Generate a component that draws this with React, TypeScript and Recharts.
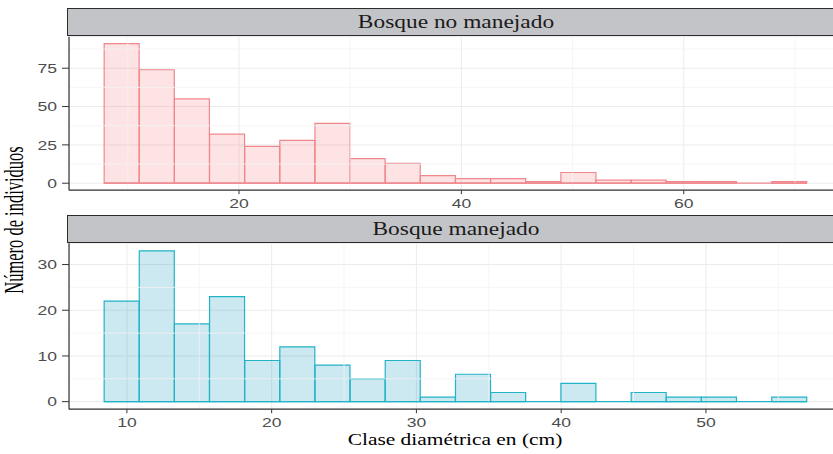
import { Bar, CartesianGrid, ComposedChart, ReferenceLine, XAxis, YAxis } from "recharts";

// Bosque no manejado (top facet)
const unmanagedCounts = [91, 74, 55, 32, 24, 28, 39, 16, 13, 5, 3, 3, 1, 7, 2, 2, 1, 1, 0, 1];
const unmanagedBinStart = 7.87;
const unmanagedBinWidth = 3.16;
const unmanagedXTicks = [20, 40, 60];
const unmanagedXMinor = [10, 30, 50, 70];
const unmanagedYTicks = [0, 25, 50, 75];
const unmanagedYMinor = [12.5, 37.5, 62.5, 87.5];

// Bosque manejado (bottom facet)
const managedCounts = [22, 33, 17, 23, 9, 12, 8, 5, 9, 1, 6, 2, 0, 4, 0, 2, 1, 1, 0, 1];
const managedBinStart = 8.43;
const managedBinWidth = 2.427;
const managedXTicks = [10, 20, 30, 40, 50];
const managedXMinor = [15, 25, 35, 45, 55];
const managedYTicks = [0, 10, 20, 30];
const managedYMinor = [5, 15, 25];

const PLOT_LEFT = 69;
const CHART_W = 842;
const AXIS_H = 30;
const EXPAND = 0.05; // ggplot default continuous expansion

const serif = "'Liberation Serif', 'Times New Roman', serif";
const tickFont = {
	fontFamily: "'Liberation Sans', Arial, sans-serif",
	fontSize: 13.5,
	fill: "#4d4d4d",
};

function makeTick(anchor: "middle" | "end", dy: string) {
	return (props: any) => {
		const { x, y, payload } = props;
		return (
			<text
				transform={`translate(${x},${y}) scale(1.3,1)`}
				textAnchor={anchor}
				dy={dy}
				{...tickFont}
			>
				{payload.value}
			</text>
		);
	};
}

interface PanelProps {
	title: string;
	counts: number[];
	binStart: number;
	binWidth: number;
	xTicks: number[];
	xMinor: number[];
	yTicks: number[];
	yMinor: number[];
	color: string;
	stroke: string;
	stripTop: number;
	stripBottom: number;
	plotBottom: number;
}

function Panel({
	title,
	counts,
	binStart,
	binWidth,
	xTicks,
	xMinor,
	yTicks,
	yMinor,
	color,
	stroke,
	stripTop,
	stripBottom,
	plotBottom,
}: PanelProps) {
	const data = counts.map((count, i) => ({
		bin: i,
		mid: binStart + binWidth * (i + 0.5),
		count,
	}));
	const binEnd = binStart + binWidth * counts.length;
	const span = binEnd - binStart;
	const xDomain = [binStart - EXPAND * span, binEnd + EXPAND * span];
	const yMax = Math.max(...counts);
	const yDomain = [-EXPAND * yMax, (1 + EXPAND) * yMax];
	const plotWidth = CHART_W - PLOT_LEFT;
	const pad = (plotWidth * EXPAND) / (1 + 2 * EXPAND);
	const height = plotBottom - stripTop + AXIS_H;

	return (
		<>
			<div
				style={{
					position: "absolute",
					left: 0,
					top: stripTop,
				}}
			>
				<ComposedChart
					width={CHART_W}
					height={height}
					data={data}
					barCategoryGap={0}
					margin={{ top: stripBottom - stripTop, right: 0, bottom: 0, left: 0 }}
				>
					<CartesianGrid xAxisId="num" stroke="#ebebeb" strokeWidth={1} />
					{xMinor.map((v) => (
						<ReferenceLine key={`mx${v}`} xAxisId="num" x={v} stroke="#f3f3f3" strokeWidth={0.8} />
					))}
					{yMinor.map((v) => (
						<ReferenceLine key={`my${v}`} xAxisId="num" y={v} stroke="#f3f3f3" strokeWidth={0.8} />
					))}
					<XAxis
						xAxisId="cat"
						dataKey="bin"
						type="category"
						orientation="top"
						height={0}
						hide
						padding={{ left: pad, right: pad }}
					/>
					<XAxis
						xAxisId="num"
						dataKey="mid"
						type="number"
						domain={xDomain}
						allowDataOverflow
						ticks={xTicks}
						height={AXIS_H}
						tickSize={4}
						tickMargin={4}
						axisLine={{ stroke: "#333", strokeWidth: 1.2 }}
						tickLine={{ stroke: "#333" }}
						tick={makeTick("middle", "0.71em")}
					/>
					<YAxis
						type="number"
						domain={yDomain}
						allowDataOverflow
						ticks={yTicks}
						width={PLOT_LEFT}
						tickSize={7}
						tickMargin={5}
						axisLine={{ stroke: "#333", strokeWidth: 1.2 }}
						tickLine={{ stroke: "#333" }}
						tick={makeTick("end", "0.355em")}
					/>
					<ReferenceLine
						xAxisId="num"
						segment={[
							{ x: binStart, y: 0 },
							{ x: binEnd, y: 0 },
						]}
						stroke={stroke}
						strokeWidth={1.2}
					/>
					<Bar
						xAxisId="cat"
						dataKey="count"
						fill={color}
						fillOpacity={0.2}
						stroke={stroke}
						strokeWidth={1.2}
						isAnimationActive={false}
					/>
				</ComposedChart>
			</div>
			<div
				style={{
					position: "absolute",
					left: PLOT_LEFT - 2,
					top: stripTop,
					width: CHART_W - PLOT_LEFT + 4,
					height: stripBottom - stripTop,
					boxSizing: "border-box",
					border: "1.5px solid #2b2b2b",
					background: "#c3c4c7",
				}}
			>
				<span
					style={{
						position: "absolute",
						left: "50%",
						top: "50%",
						transform: "translate(-50%,-50%) scaleX(1.3)",
						whiteSpace: "nowrap",
						fontFamily: serif,
						fontSize: 18,
						color: "#1a1a1a",
					}}
				>
					{title}
				</span>
			</div>
		</>
	);
}

export default function App() {
	return (
		<div
			style={{
				position: "absolute",
				left: 0,
				top: 0,
				width: 833,
				height: 454,
				overflow: "hidden",
				background: "#fff",
			}}
		>
			<Panel
				title="Bosque no manejado"
				counts={unmanagedCounts}
				binStart={unmanagedBinStart}
				binWidth={unmanagedBinWidth}
				xTicks={unmanagedXTicks}
				xMinor={unmanagedXMinor}
				yTicks={unmanagedYTicks}
				yMinor={unmanagedYMinor}
				color="#F6737A"
				stroke="#EF878C"
				stripTop={7.5}
				stripBottom={36.2}
				plotBottom={189.7}
			/>
			<Panel
				title="Bosque manejado"
				counts={managedCounts}
				binStart={managedBinStart}
				binWidth={managedBinWidth}
				xTicks={managedXTicks}
				xMinor={managedXMinor}
				yTicks={managedYTicks}
				yMinor={managedYMinor}
				color="#008CB4"
				stroke="#22B3C7"
				stripTop={215}
				stripBottom={243.3}
				plotBottom={409.2}
			/>
			<span
				style={{
					position: "absolute",
					left: 15,
					top: 220,
					transform: "translate(-50%,-50%) scaleX(1.6) rotate(-90deg)",
					whiteSpace: "nowrap",
					fontFamily: serif,
					fontSize: 16.5,
					color: "#000",
				}}
			>
				Número de individuos
			</span>
			<span
				style={{
					position: "absolute",
					left: 455,
					top: 440,
					transform: "translate(-50%,-50%) scaleX(1.26)",
					whiteSpace: "nowrap",
					fontFamily: serif,
					fontSize: 17,
					color: "#000",
				}}
			>
				Clase diamétrica en (cm)
			</span>
		</div>
	);
}
